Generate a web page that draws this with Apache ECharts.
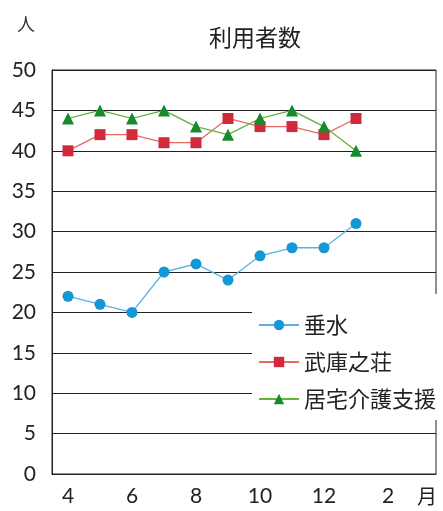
<!DOCTYPE html>
<html>
<head>
<meta charset="utf-8">
<script src="https://cdn.jsdelivr.net/npm/echarts@6/dist/echarts.min.js"></script>
<style>
  html, body { margin: 0; padding: 0; background: #fff; }
  #chart { width: 443px; height: 511px; }
</style>
</head>
<body>
<div id="chart"></div>
<script>
// Months April through March; only every other month is labelled
const months = ['4', '5', '6', '7', '8', '9', '10', '11', '12', '1', '2', '3'];
const monthLabels = ['4', '', '6', '', '8', '', '10', '', '12', '', '2', '月'];

// Number of users per month
const tarumi = [22, 21, 20, 25, 26, 24, 27, 28, 28, 31];
const mukonoso = [40, 42, 42, 41, 41, 44, 43, 43, 42, 44];
const kyotaku = [44, 45, 44, 45, 43, 42, 44, 45, 43, 40];

const yTicks = { min: 0, max: 50, step: 5 };

const numFont = 'Lato, "Noto Sans", sans-serif';
const cjkFont = '"Noto Sans CJK JP", "Noto Sans", sans-serif';

const chart = echarts.init(document.getElementById('chart'));
chart.setOption({
  backgroundColor: '#fff',
  animation: false,
  title: [
    { text: '利用者数', left: 250, textAlign: 'center', top: 21,
      textStyle: { fontFamily: cjkFont, fontSize: 23, fontWeight: 'normal', color: '#222' } },
    { text: '人', left: 12, top: 10,
      textStyle: { fontFamily: cjkFont, fontSize: 18, fontWeight: 'normal', color: '#333' } }
  ],
  grid: { left: 52, right: 7, top: 70, bottom: 37, show: true, borderColor: '#222', borderWidth: 1 },
  legend: {
    orient: 'vertical', left: 252, top: 294,
    padding: [20, 30, 10, 6],
    backgroundColor: '#fff',
    itemWidth: 40, itemHeight: 13, itemGap: 15,
    textStyle: { fontFamily: cjkFont, fontSize: 22, color: '#222' },
    data: ['垂水', '武庫之荘', '居宅介護支援']
  },
  xAxis: {
    type: 'category', data: months, boundaryGap: true,
    axisLine: { lineStyle: { color: '#222', width: 1 } },
    axisTick: { inside: true, length: 6, interval: 0, lineStyle: { color: '#222' } },
    axisLabel: {
      interval: 0, margin: 12, fontFamily: numFont, fontSize: 21, color: '#222',
      formatter: (v, i) => monthLabels[i] === '月' ? '{m|月}' : monthLabels[i],
      rich: { m: { fontFamily: cjkFont, fontSize: 20, color: '#222', padding: [0, 0, 0, 14] } }
    }
  },
  yAxis: {
    type: 'value', min: yTicks.min, max: yTicks.max, interval: yTicks.step,
    axisLine: { show: true, lineStyle: { color: '#222', width: 1 } },
    axisTick: { show: false },
    splitLine: { lineStyle: { color: '#222', width: 1 } },
    axisLabel: { margin: 16, fontFamily: numFont, fontSize: 21, color: '#222' }
  },
  series: [
    { name: '垂水', type: 'line', data: tarumi, symbol: 'circle', symbolSize: 11,
      itemStyle: { color: '#1596d6' }, lineStyle: { color: '#5ab2e4', width: 1.3 }, z: 3 },
    { name: '武庫之荘', type: 'line', data: mukonoso, symbol: 'rect', symbolSize: 11,
      itemStyle: { color: '#d02a3c' }, lineStyle: { color: '#e46a62', width: 1.3 }, z: 3 },
    { name: '居宅介護支援', type: 'line', data: kyotaku, symbol: 'triangle', symbolSize: 12,
      itemStyle: { color: '#168a2c' }, lineStyle: { color: '#62b43c', width: 1.3 }, z: 4 }
  ]
});
</script>
</body>
</html>
